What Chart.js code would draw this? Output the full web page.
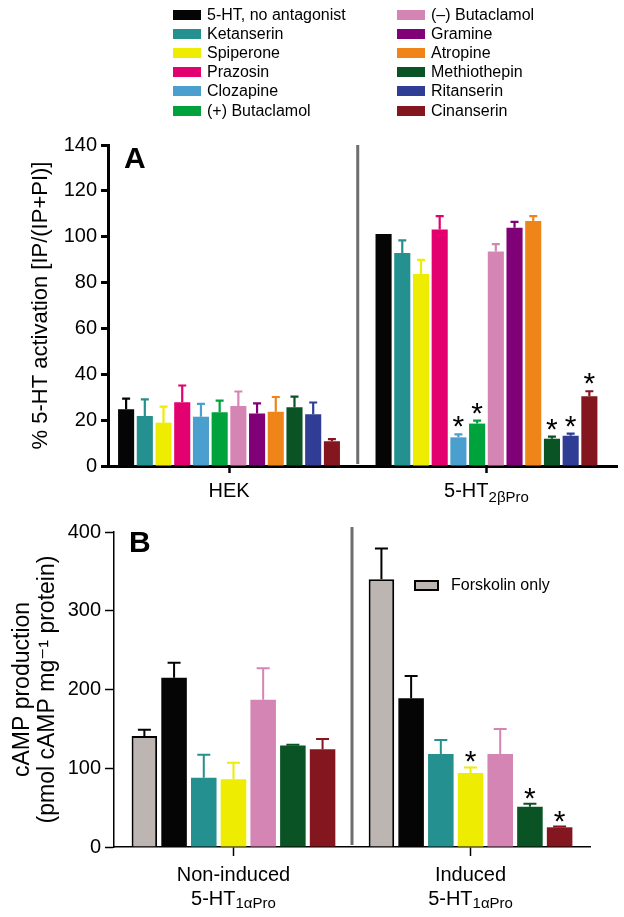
<!DOCTYPE html>
<html>
<head>
<meta charset="utf-8">
<script src="https://cdn.jsdelivr.net/npm/chart.js@4.4.0/dist/chart.umd.min.js"></script>
<style>
  body { margin: 0; background: #fff; }
  #wrap { position: relative; width: 624px; height: 917px; font-family: "Liberation Sans", Arial, Helvetica, sans-serif; color: #000; }
  canvas { position: absolute; left: 0; }
  #chartA { top: 0; }
  #chartB { top: 505px; }
  .col { position: absolute; top: 5px; }
  .item { display: flex; align-items: center; height: 19.2px; font-size: 16px; white-space: nowrap; }
  .sw { width: 28px; height: 10px; margin-right: 6px; }
  #fsk { position: absolute; left: 414px; top: 575px; height: 20px; display: flex; align-items: center; font-size: 16px; }
  #fsk .sw { width: 25px; height: 11px; box-sizing: border-box; border: 2px solid #000; }
</style>
</head>
<body>
<div id="wrap">
  <canvas id="chartA" width="624" height="505"></canvas>
  <canvas id="chartB" width="624" height="412"></canvas>
  <div class="col" id="legCol1" style="left:173px"></div>
  <div class="col" id="legCol2" style="left:397px"></div>
  <div id="fsk"></div>
</div>
<script>
// Panel A: 12 treatments, two cell lines
const drugsA = ['5-HT, no antagonist', 'Ketanserin', 'Spiperone', 'Prazosin', 'Clozapine', '(+) Butaclamol',
                '(–) Butaclamol', 'Gramine', 'Atropine', 'Methiothepin', 'Ritanserin', 'Cinanserin'];
const colorsA = ['#050505', '#24908f', '#eeec00', '#e3006f', '#4a9fce', '#00a23c',
                 '#d585b3', '#7f0077', '#ef8519', '#0a5325', '#2f3e94', '#841620'];
const catNamesA = ['HEK', '5-HT'];
const catSubsA = ['', '2βPro'];
const hekMean = [24.8, 21.8, 18.9, 27.8, 21.5, 23.4, 26.2, 22.9, 23.7, 25.6, 22.6, 10.8];
const hekErr  = [4.6, 7.3, 7.0, 7.3, 5.6, 5.1, 6.3, 4.4, 6.4, 4.7, 5.1, 0.9];
const proMean = [101.2, 92.9, 83.7, 103.1, 12.5, 18.5, 93.6, 103.9, 106.9, 11.9, 13.2, 30.4];
const proErr  = [0, 5.5, 6.2, 5.9, 1.3, 1.3, 3.2, 2.6, 2.1, 0.9, 0.9, 2.2];
const proStar = [0, 0, 0, 0, 1, 1, 0, 0, 0, 1, 1, 1];

// Panel B: cAMP, non-induced vs induced
const drugsB = ['Forskolin only', '5-HT, no antagonist', 'Ketanserin', 'Spiperone', '(–) Butaclamol', 'Methiothepin', 'Cinanserin'];
const forskolinColor = '#bcb5b2';
const catLine1B = ['Non-induced', 'Induced'];
const catNamesB = ['5-HT', '5-HT'];
const catSubsB = ['1αPro', '1αPro'];
const nonMean = [141, 215, 88, 86, 187, 129, 124];
const nonErr  = [8, 19, 29, 21, 40, 1, 13];
const indMean = [340, 189, 118, 94, 118, 51, 25];
const indErr  = [39, 28, 18, 7, 32, 4, 1];
const indStar = [0, 0, 0, 1, 0, 1, 1];

const FONT = '"Liberation Sans", Arial, Helvetica, "DejaVu Sans", sans-serif';
Chart.defaults.font.family = FONT;
Chart.defaults.color = '#000';

// legend (two columns, filled top to bottom)
drugsA.forEach((name, i) => {
    const col = document.getElementById(i < 6 ? 'legCol1' : 'legCol2');
    col.innerHTML += `<div class="item"><span class="sw" style="background:${colorsA[i]}"></span>${name}</div>`;
});
document.getElementById('fsk').innerHTML =
    `<span class="sw" style="background:${forskolinColor}"></span><span style="margin-left:6px">${drugsB[0]}</span>`;

// error bars + significance stars
const errorBars = {
    id: 'errorBars',
    afterDatasetsDraw(chart, args, o) {
        const { ctx, scales: { y } } = chart;
        ctx.save();
        chart.data.datasets.forEach((ds, i) => {
            chart.getDatasetMeta(i).data.forEach((bar, j) => {
                const top = y.getPixelForValue(ds.data[j].y + ds.errors[j]);
                if (ds.errors[j] > 0) {
                    ctx.strokeStyle = ds.errColor || ds.backgroundColor;
                    ctx.lineWidth = o.width;
                    ctx.beginPath();
                    ctx.moveTo(bar.x, bar.y);
                    ctx.lineTo(bar.x, top);
                    ctx.moveTo(bar.x - o.cap / 2, top);
                    ctx.lineTo(bar.x + o.cap / 2, top);
                    ctx.stroke();
                }
                if (ds.stars[j]) {
                    ctx.fillStyle = '#000';
                    ctx.font = o.starSize + 'px ' + FONT;
                    ctx.textAlign = 'center';
                    ctx.textBaseline = 'alphabetic';
                    ctx.fillText('*', bar.x, top + o.starShift);
                }
            });
        });
        ctx.restore();
    }
};

// divider, panel letter, group labels with subscripts
const decor = {
    id: 'decor',
    afterDraw(chart, args, o) {
        const { ctx, chartArea: a, scales: { x } } = chart;
        ctx.save();
        const xd = x.getPixelForValue(0.5);
        ctx.strokeStyle = '#6e6e6e';
        ctx.lineWidth = 3;
        ctx.beginPath();
        ctx.moveTo(xd, a.top - o.divTop);
        ctx.lineTo(xd, a.bottom - 2);
        ctx.stroke();

        ctx.fillStyle = '#000';
        ctx.textAlign = 'left';
        ctx.textBaseline = 'alphabetic';
        ctx.font = 'bold 30px ' + FONT;
        ctx.fillText(o.letter, a.left + o.letterDx, a.top + o.letterDy);

        o.rows.forEach(row => {
            row.names.forEach((name, i) => {
                ctx.font = '20px ' + FONT;
                const wm = ctx.measureText(name).width;
                ctx.font = row.subSize + 'px ' + FONT;
                const ws = row.subs[i] ? ctx.measureText(row.subs[i]).width : 0;
                const x0 = x.getPixelForValue(i) - (wm + ws) / 2;
                const yb = a.bottom + row.dy;
                ctx.font = '20px ' + FONT;
                ctx.fillText(name, x0, yb);
                if (ws) {
                    ctx.font = row.subSize + 'px ' + FONT;
                    ctx.fillText(row.subs[i], x0 + wm, yb + row.subDy);
                }
            });
        });
        ctx.restore();
    }
};

function makeChart(id, datasets, c) {
    return new Chart(document.getElementById(id), {
        type: 'bar',
        data: { datasets: datasets },
        options: {
            responsive: false,
            animation: false,
            layout: { padding: c.pad },
            datasets: { bar: { categoryPercentage: c.catPct, barPercentage: c.barPct } },
            scales: {
                x: {
                    type: 'linear', min: c.xMin, max: c.xMax, offset: false,
                    afterFit: s => { s.height = c.xHeight; },
                    ticks: { display: false, stepSize: 1, includeBounds: false },
                    grid: { offset: false, drawOnChartArea: false, tickLength: c.xTick, tickWidth: c.xTickW, tickColor: '#000' },
                    border: { color: '#000', width: c.lw }
                },
                y: {
                    min: 0, max: c.yMax,
                    afterFit: s => { s.width = c.yWidth; },
                    ticks: { stepSize: c.yStep, font: { size: 20 }, padding: 4, color: '#000' },
                    grid: { drawOnChartArea: false, tickLength: c.yTick, tickWidth: c.lw, tickColor: '#000' },
                    border: { color: '#000', width: c.lw },
                    title: { display: true, text: c.title, color: '#000',
                             font: { size: c.titleSize, lineHeight: c.titleLH }, padding: { top: c.titlePad } }
                }
            },
            plugins: { legend: { display: false }, tooltip: { enabled: false }, errorBars: c.err, decor: c.decor }
        },
        plugins: [errorBars, decor]
    });
}

const datasetsA = drugsA.map((name, i) => ({
    label: name,
    data: [{ x: 0, y: hekMean[i] }, { x: 1, y: proMean[i] }],
    errors: [hekErr[i], proErr[i]],
    stars: [false, proStar[i] === 1],
    backgroundColor: colorsA[i],
    borderWidth: 0
}));

const datasetsB = drugsB.map((name, i) => {
    const isFsk = i === 0;
    return {
        label: name,
        data: [{ x: 0, y: nonMean[i] }, { x: 1, y: indMean[i] }],
        errors: [nonErr[i], indErr[i]],
        stars: [false, indStar[i] === 1],
        backgroundColor: isFsk ? forskolinColor : colorsA[drugsA.indexOf(name)],
        borderColor: '#000',
        borderWidth: isFsk ? 2 : 0,
        errColor: isFsk ? '#000' : null
    };
});

makeChart('chartA', datasetsA, {
    pad: { top: 145, right: 7, left: 0, bottom: 0 },
    catPct: 0.872, barPct: 0.86,
    xMin: -0.47, xMax: 1.507, xHeight: 39, xTick: 7, xTickW: 2.5, lw: 3,
    yMax: 140, yStep: 20, yWidth: 108, yTick: 7,
    title: '% 5-HT activation [IP/(IP+PI)]', titleSize: 22, titleLH: 1.2, titlePad: 28,
    err: { width: 2.2, cap: 8, starShift: 2, starSize: 30 },
    decor: { letter: 'A', letterDx: 16, letterDy: 23, divTop: 0,
             rows: [{ names: catNamesA, subs: catSubsA, dy: 31, subSize: 15, subDy: 5 }] }
});

makeChart('chartB', datasetsB, {
    pad: { top: 27, right: 34, left: 0, bottom: 0 },
    catPct: 0.877, barPct: 0.86,
    xMin: -0.504, xMax: 1.504, xHeight: 70, xTick: 9, xTickW: 1.5, lw: 1.5,
    yMax: 400, yStep: 100, yWidth: 114, yTick: 9,
    title: ['cAMP production', '(pmol cAMP mg⁻¹ protein)'], titleSize: 23, titleLH: 1.05, titlePad: 11,
    err: { width: 2, cap: 13, starShift: 4, starSize: 30 },
    decor: { letter: 'B', letterDx: 15, letterDy: 20, divTop: 5,
             rows: [{ names: catLine1B, subs: ['', ''], dy: 34, subSize: 15, subDy: 3 },
                    { names: catNamesB, subs: catSubsB, dy: 58, subSize: 15, subDy: 3 }] }
});
</script>
</body>
</html>
